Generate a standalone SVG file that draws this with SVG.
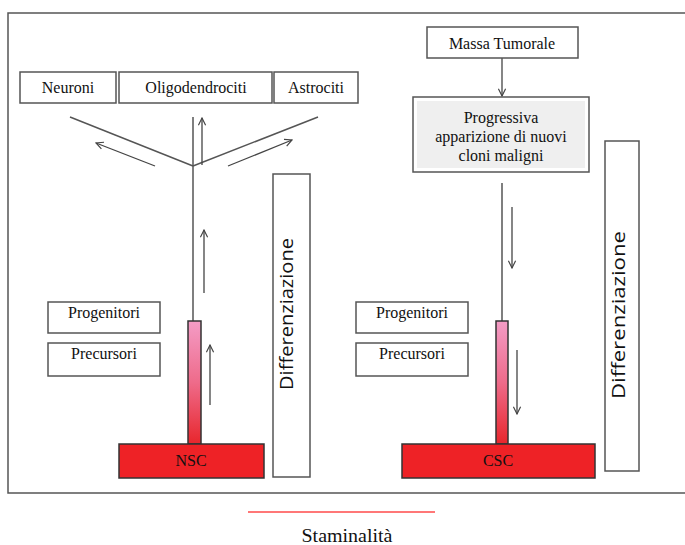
<svg xmlns="http://www.w3.org/2000/svg" width="685" height="545" viewBox="0 0 685 545">
<defs>
<linearGradient id="stem" x1="0" y1="0" x2="0" y2="1">
<stop offset="0" stop-color="#f49cc6"/>
<stop offset="0.5" stop-color="#ee6b8a"/>
<stop offset="1" stop-color="#e8262c"/>
</linearGradient>
<marker id="ah" viewBox="0 0 10 10" refX="9" refY="5" markerWidth="9" markerHeight="9" markerUnits="userSpaceOnUse" orient="auto">
<path d="M1,1 L9,5 L1,9" fill="none" stroke="#444" stroke-width="1.3"/>
</marker>
<style>
.box{fill:#fff;stroke:#555;stroke-width:1.5}
.red{fill:#ee2226;stroke:#333;stroke-width:1.5}
.bar{fill:url(#stem);stroke:#333;stroke-width:1.5}
.t{font-family:"Liberation Serif","Times New Roman",serif;font-size:16px;fill:#111;text-anchor:middle}
.d{font-family:"Open Sans","Noto Sans",sans-serif;font-size:18px;fill:#111;text-anchor:middle}
.ln{stroke:#555;stroke-width:1.5;fill:none}
.ar{stroke:#444;stroke-width:1.3;fill:none;marker-end:url(#ah)}
</style>
</defs>
<rect width="685" height="545" fill="#fff"/>
<path d="M690,13 H8 V493 H690" fill="none" stroke="#555" stroke-width="1.5"/>

<g id="connectors">
<line class="ln" x1="70" y1="117" x2="193" y2="166"/>
<line class="ln" x1="193" y1="166" x2="318" y2="117"/>
<line class="ln" x1="193" y1="117" x2="193" y2="321"/>
<line class="ar" x1="202" y1="165" x2="202" y2="118"/>
<line class="ar" x1="155" y1="166" x2="96" y2="143"/>
<line class="ar" x1="228" y1="166" x2="292" y2="140"/>
<line class="ar" x1="204" y1="293" x2="204" y2="230"/>
<line class="ar" x1="210" y1="405" x2="210" y2="345"/>
<line class="ar" x1="502" y1="58" x2="502" y2="96"/>
<line class="ln" x1="502" y1="183" x2="502" y2="321"/>
<line class="ar" x1="512" y1="207" x2="512" y2="268"/>
<line class="ar" x1="517" y1="350" x2="517" y2="414"/>
</g>

<g id="neuroni"><rect class="box" x="20" y="72" width="96" height="31"/><text class="t" x="68" y="93">Neuroni</text></g>
<g id="oligodendrociti"><rect class="box" x="119" y="72" width="153" height="31"/><text class="t" x="196" y="93">Oligodendrociti</text></g>
<g id="astrociti"><rect class="box" x="274" y="72" width="84" height="31"/><text class="t" x="316" y="93">Astrociti</text></g>

<g id="progenitori-l"><rect class="box" x="48" y="302" width="112" height="31"/><text class="t" x="104" y="318">Progenitori</text></g>
<g id="precursori-l"><rect class="box" x="48" y="343" width="112" height="33"/><text class="t" x="104" y="359">Precursori</text></g>
<g id="stem-l"><rect class="bar" x="188" y="321" width="13" height="123"/></g>
<g id="nsc"><rect class="red" x="119" y="444" width="145" height="34"/><text class="t" x="191" y="466">NSC</text></g>
<g id="diff-l"><rect class="box" x="273" y="174" width="37" height="303"/><text class="d" transform="translate(293,314) rotate(-90)" textLength="152" lengthAdjust="spacingAndGlyphs">Differenziazione</text></g>

<g id="massa"><rect class="box" x="427" y="27" width="151" height="31"/><text class="t" x="502" y="49">Massa Tumorale</text></g>
<g id="progressiva"><rect class="box" x="413" y="97" width="176" height="75"/><rect x="417" y="101" width="168" height="67" fill="#efefef"/>
<text class="t" x="501" y="123">Progressiva</text><text class="t" x="501" y="142">apparizione di nuovi</text><text class="t" x="501" y="161">cloni maligni</text></g>
<g id="progenitori-r"><rect class="box" x="356" y="302" width="112" height="31"/><text class="t" x="412" y="318">Progenitori</text></g>
<g id="precursori-r"><rect class="box" x="356" y="343" width="112" height="33"/><text class="t" x="412" y="359">Precursori</text></g>
<g id="stem-r"><rect class="bar" x="496" y="321" width="12" height="123"/></g>
<g id="csc"><rect class="red" x="402" y="444" width="193" height="34"/><text class="t" x="498" y="466">CSC</text></g>
<g id="diff-r"><rect class="box" x="605" y="141" width="34" height="330"/><text class="d" transform="translate(625,315) rotate(-90)" textLength="168" lengthAdjust="spacingAndGlyphs">Differenziazione</text></g>

<g id="staminalita"><line x1="248" y1="512" x2="435" y2="512" stroke="#ff4a4a" stroke-width="1.5"/><text class="t" x="347" y="542" style="font-size:19px" textLength="91" lengthAdjust="spacingAndGlyphs">Staminalità</text></g>
</svg>
